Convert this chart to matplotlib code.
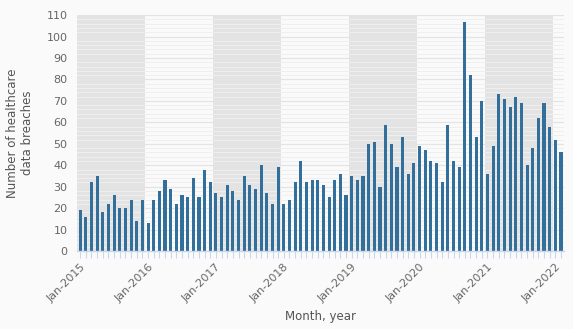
import numpy as np
import matplotlib
matplotlib.use("Agg")
import matplotlib.pyplot as plt
from matplotlib.ticker import FixedLocator, MultipleLocator

# ── Data: monthly healthcare data breaches ──────────────────────────────────
years = [2015, 2016, 2017, 2018, 2019, 2020, 2021, 2022]
breaches_2015 = [19, 16, 32, 35, 18, 22, 26, 20, 20, 24, 14, 24]
breaches_2016 = [13, 24, 28, 33, 29, 22, 26, 25, 34, 25, 38, 32]
breaches_2017 = [27, 25, 31, 28, 24, 35, 31, 29, 40, 27, 22, 39]
breaches_2018 = [22, 24, 32, 42, 32, 33, 33, 31, 25, 33, 36, 26]
breaches_2019 = [35, 33, 35, 50, 51, 30, 59, 50, 39, 53, 36, 41]
breaches_2020 = [49, 47, 42, 41, 32, 59, 42, 39, 107, 82, 53, 70]
breaches_2021 = [36, 49, 73, 71, 67, 72, 69, 40, 48, 62, 69, 58]
breaches_2022 = [52, 46]
shaded_years = [2015, 2017, 2019, 2021]

values = (breaches_2015 + breaches_2016 + breaches_2017 + breaches_2018
          + breaches_2019 + breaches_2020 + breaches_2021 + breaches_2022)
x = np.arange(len(values))
jan_idx = [12 * (y - years[0]) for y in years]
jan_labels = [f"Jan-{y}" for y in years]

# ── Style ───────────────────────────────────────────────────────────────────
BG = "#fafafa"
BAR = "#326f9a"
TXT = "#666666"
AXIS = "#ccd6eb"

fig = plt.figure(figsize=(5.73, 3.29), dpi=100, facecolor=BG)
ax = fig.add_axes([0.135, 0.237, 0.849, 0.717], facecolor=BG)

for y in shaded_years:
    s = 12 * (y - years[0])
    ax.axvspan(s - 0.5, s + 11.5, color="#e3e3e3", lw=0, zorder=0)

ax.set_ylim(0, 110)
ax.set_xlim(-0.5, len(values) - 0.5)
ax.yaxis.set_major_locator(MultipleLocator(10))
ax.yaxis.set_minor_locator(MultipleLocator(2))
ax.grid(axis="y", which="minor", color="#efefef", lw=0.7, zorder=0.5)
ax.grid(axis="y", which="major", color="#e4e4e4", lw=0.9, zorder=0.6)
ax.set_axisbelow(True)

ax.bar(x, values, width=0.55, color=BAR, zorder=2)

for s in ["top", "right", "left"]:
    ax.spines[s].set_visible(False)
ax.spines["bottom"].set_color(AXIS)
ax.spines["bottom"].set_linewidth(1.0)

ax.xaxis.set_major_locator(FixedLocator(jan_idx))
ax.xaxis.set_minor_locator(FixedLocator(x))
ax.set_xticklabels(jan_labels, rotation=45, ha="right", rotation_mode="anchor",
                   fontsize=8, color=TXT)
ax.tick_params(axis="x", which="both", length=5, color=AXIS, width=0.8, pad=3)
ax.tick_params(axis="y", which="both", length=0, labelsize=8, labelcolor=TXT, pad=7)

ax.set_xlabel("Month, year", fontsize=8.5, color="#555555", labelpad=4)
ax.set_ylabel("Number of healthcare\ndata breaches", fontsize=8.5, color="#555555",
              labelpad=9)

fig.savefig("out.png", dpi=100, facecolor=BG)
